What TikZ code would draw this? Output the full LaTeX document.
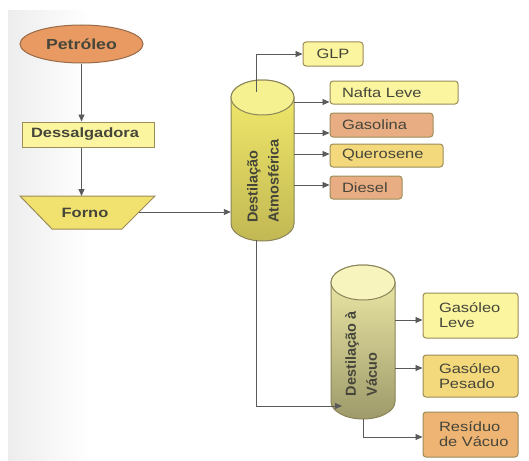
\documentclass[tikz,border=0pt]{standalone}
\usepackage{fontspec}
\setmainfont{Liberation Sans}[FakeStretch=1.22]
\newfontfamily\rotfont{Liberation Sans}
\usetikzlibrary{arrows.meta,shapes.geometric}
\definecolor{linec}{HTML}{5A5A5A}
\definecolor{txt}{HTML}{45453A}
\definecolor{lyel}{HTML}{FAF59E}
\definecolor{salm}{HTML}{E9AD84}
\definecolor{qyel}{HTML}{F4D97C}
\definecolor{resor}{HTML}{EEB474}
\definecolor{petor}{HTML}{E89A62}
\definecolor{petb}{HTML}{9A6A48}
\definecolor{boxb}{HTML}{9C8C58}
\definecolor{fornoy}{HTML}{F1E16E}
\definecolor{atmtop}{HTML}{F6F190}
\definecolor{atmhi}{HTML}{F3EC6C}
\definecolor{atmlo}{HTML}{C2B854}
\definecolor{vactop}{HTML}{F7F4BE}
\definecolor{vachi}{HTML}{F2EEAA}
\definecolor{vaclo}{HTML}{9E9A6A}
\definecolor{cylb}{HTML}{8A8458}
\tikzset{
  conn/.style={draw=linec, line width=0.9pt},
  arr/.style={conn, -{Triangle[length=7pt,width=6pt]}},
  outbox/.style={rectangle, rounded corners=3pt, draw=boxb, line width=1pt,
    inner ysep=0pt, text=txt, font=\fontsize{13.5}{15}\selectfont, align=left},
  twobox/.style={outbox, text width=63, inner xsep=16pt},
  onebox/.style={outbox, inner xsep=12pt, minimum height=23},
  cyl/.style={draw=cylb, line width=1pt},
  rottext/.style={rotate=90, align=left, text=txt,
    font=\rotfont\bfseries\fontsize{14.5}{21}\selectfont},
}
\begin{document}
\begin{tikzpicture}[x=1pt,y=-1pt]
\useasboundingbox (0,0) rectangle (529,460);
\fill[white] (0,0) rectangle (529,460);
\shade[left color=black!7, right color=white] (8,11) rectangle (90,460);

% Petroleo
\node[ellipse, draw=petb, line width=1pt, fill=petor, minimum width=123, minimum height=38,
  inner sep=0, text=txt, font=\bfseries\fontsize{14.5}{16}\selectfont] (pet) at (81.5,44) {Petróleo};
% Dessalgadora
\node[rectangle, draw=boxb, line width=1pt, fill=lyel, text width=114, inner xsep=9pt,
  minimum height=25, inner ysep=0, align=left, text=txt,
  font=\bfseries\fontsize{13.5}{15}\selectfont] (dess) at (88,134.5) {Dessalgadora};
% Forno
\draw[draw=boxb, line width=1pt, fill=fornoy] (20,196) -- (155,196) -- (122,229) -- (52,229) -- cycle;
\node[text=txt, font=\bfseries\fontsize{13.5}{15}\selectfont] (forno) at (85,213) {Forno};
\coordinate (fornoT) at (81.5,196);
\coordinate (fornoR) at (138.5,212);

% Atmospheric column
\shade[cyl, top color=atmhi, bottom color=atmlo]
  (231,97.5) -- (231,223.5) arc[start angle=180, end angle=0, x radius=31.5, y radius=17.5]
  -- (294,97.5) arc[start angle=0, end angle=-180, x radius=31.5, y radius=17.5] -- cycle;
\draw[cyl, fill=atmtop] (262.5,97.5) ellipse [x radius=31.5, y radius=17.5];
\node[inner sep=0, minimum width=63, minimum height=161] (atm) at (262.5,160.5) {};
\node[rottext] (atmtext) at (263,181) {Destilação\\Atmosférica};

% Vacuum column
\shade[cyl, top color=vachi, bottom color=vaclo]
  (331,282.5) -- (331,401.5) arc[start angle=180, end angle=0, x radius=32, y radius=17.5]
  -- (395,282.5) arc[start angle=0, end angle=-180, x radius=32, y radius=17.5] -- cycle;
\draw[cyl, fill=vactop] (363,282.5) ellipse [x radius=32, y radius=17.5];
\node[inner sep=0, minimum width=64, minimum height=154] (vac) at (363,342) {};
\node[rottext] (vactext) at (361,354) {Destilação à\\Vácuo};

% Product boxes
\node[outbox, fill=lyel, minimum width=60, minimum height=24, align=center] (glp) at (333,54) {GLP};
\node[onebox, fill=lyel, text width=104] (nafta) at (394,92.5) {Nafta Leve};
\node[onebox, fill=salm, text width=79, minimum height=24] (gasol) at (381.5,125) {Gasolina};
\node[onebox, fill=qyel, text width=89] (quer) at (386.5,155.5) {Querosene};
\node[onebox, fill=salm, text width=48] (dies) at (366,187.5) {Diesel};

\node[twobox, fill=lyel, minimum height=45] (gleve) at (470.5,315.5) {Gasóleo\\Leve};
\node[twobox, fill=qyel, minimum height=42] (gpes) at (470.5,376) {Gasóleo\\Pesado};
\node[twobox, fill=resor, minimum height=45] (resid) at (470.5,434.5) {Resíduo\\de~Vácuo};

% Connectors
\draw[arr] (pet.south) -- (pet.south |- dess.north);
\draw[arr] (pet.south |- dess.south) -- (fornoT);
\draw[arr] (fornoR) -- (atm.west |- fornoR);

\coordinate (glps) at (256,92);
\draw[arr] (glps) |- (glp.west);
\draw[arr] (atm.east |- 0,102) -- (nafta.west |- 0,102);
\draw[arr] (atm.east |- 0,133) -- (gasol.west |- 0,133);
\draw[arr] (atm.east |- 0,154) -- (quer.west |- 0,154);
\draw[arr] (atm.east |- 0,185) -- (dies.west |- 0,185);

\coordinate (atmB) at (256,240);
\coordinate (vacL) at (342,406);
\draw[arr] (atmB) |- (vacL);

\draw[arr] (vac.east |- 0,320) -- (gleve.west |- 0,320);
\draw[arr] (vac.east |- 0,368) -- (gpes.west |- 0,368);
\coordinate (vacB) at (363,419);
\draw[arr] (vacB) |- (resid.west |- 0,437);
\end{tikzpicture}
\end{document}
